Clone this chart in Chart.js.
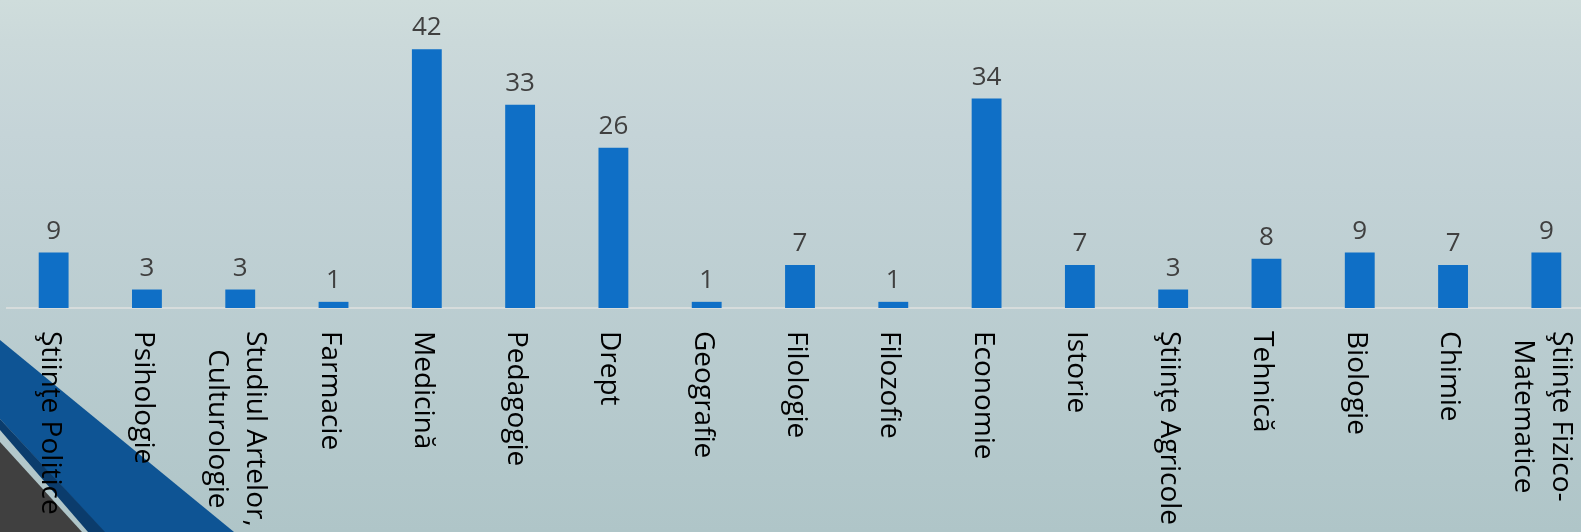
<!DOCTYPE html>
<html>
<head>
<meta charset="utf-8">
<script src="https://cdn.jsdelivr.net/npm/chart.js@4/dist/chart.umd.min.js"></script>
<style>
  html, body { margin: 0; padding: 0; overflow: hidden; width: 1581px; height: 532px; background: #c6d5d8; }
  #wrap { width: 1600px; height: 532px; }
</style>
</head>
<body>
<div id="wrap"><canvas id="c" width="1600" height="532"></canvas></div>
<script>
const categories = [
  "Ştiinţe Politice",
  "Psihologie",
  ["Studiul Artelor,", "Culturologie"],
  "Farmacie",
  "Medicină",
  "Pedagogie",
  "Drept",
  "Geografie",
  "Filologie",
  "Filozofie",
  "Economie",
  "Istorie",
  "Ştiinţe Agricole",
  "Tehnică",
  "Biologie",
  "Chimie",
  ["Ştiinţe Fizico-", "Matematice"]
];
const values = [9, 3, 3, 1, 42, 33, 26, 1, 7, 1, 34, 7, 3, 8, 9, 7, 9];
const yMin = 0;
const yMax = 50;

const backgroundPlugin = {
  id: 'bg',
  beforeDraw(chart) {
    const ctx = chart.ctx;
    const W = chart.width, H = chart.height;
    ctx.save();
    const g = ctx.createLinearGradient(0, 0, 0, H);
    g.addColorStop(0, '#cfdddc');
    g.addColorStop(0.08, '#cbd9da');
    g.addColorStop(0.25, '#c5d4d8');
    g.addColorStop(1, '#afc5c8');
    ctx.fillStyle = g;
    ctx.fillRect(0, 0, W, H);
    // decorative shapes bottom-left
    ctx.fillStyle = '#0e5494';
    ctx.beginPath();
    ctx.moveTo(0, 340); ctx.lineTo(234, 532); ctx.lineTo(104, 532); ctx.lineTo(0, 419);
    ctx.closePath(); ctx.fill();
    ctx.fillStyle = '#0b3c6c';
    ctx.beginPath();
    ctx.moveTo(0, 419); ctx.lineTo(105, 532); ctx.lineTo(88, 532); ctx.lineTo(0, 430);
    ctx.closePath(); ctx.fill();
    ctx.fillStyle = '#404040';
    ctx.beginPath();
    ctx.moveTo(0, 442); ctx.lineTo(82, 532); ctx.lineTo(0, 532);
    ctx.closePath(); ctx.fill();
    ctx.restore();
  }
};

const labelsPlugin = {
  id: 'labels',
  afterDraw(chart) {
    const ctx = chart.ctx;
    const xs = chart.scales.x;
    const base = chart.chartArea.bottom;
    ctx.save();
    // category labels, rotated 90° clockwise
    ctx.font = '28px "Open Sans"';
    ctx.fillStyle = '#000000';
    ctx.textBaseline = 'alphabetic';
    ctx.textAlign = 'left';
    const lineH = 38;
    categories.forEach((lab, i) => {
      const lines = Array.isArray(lab) ? lab : [lab];
      const cx = xs.getPixelForTick(i);
      const widths = lines.map(l => ctx.measureText(l).width);
      const maxW = Math.max(...widths);
      ctx.save();
      ctx.translate(cx, base);
      ctx.rotate(Math.PI / 2);
      lines.forEach((l, k) => {
        const yl = 12 + (k - (lines.length - 1) / 2) * lineH;
        ctx.fillText(l, 23 + (maxW - widths[k]) / 2, yl);
      });
      ctx.restore();
    });
    // value labels
    ctx.font = '26px "Open Sans"';
    ctx.fillStyle = '#404040';
    ctx.textAlign = 'center';
    const meta = chart.getDatasetMeta(0);
    meta.data.forEach((bar, i) => {
      ctx.fillText(String(values[i]), bar.x, bar.y - 14);
    });
    ctx.restore();
  }
};

new Chart(document.getElementById('c'), {
  type: 'bar',
  data: {
    labels: categories,
    datasets: [{
      data: values,
      backgroundColor: '#0f6fc6',
      borderWidth: 0,
      barPercentage: 0.32,
      categoryPercentage: 1
    }]
  },
  options: {
    responsive: false,
    animation: false,
    devicePixelRatio: 1,
    layout: { padding: { left: 7, right: 7, top: 0, bottom: 0 } },
    plugins: { legend: { display: false }, tooltip: { enabled: false } },
    scales: {
      x: {
        grid: { display: false },
        border: { display: true, color: '#d6dcdc', width: 2 },
        ticks: { display: false },
        afterFit(scale) { scale.height = 224; }
      },
      y: {
        display: false,
        min: yMin,
        max: yMax
      }
    }
  },
  plugins: [backgroundPlugin, labelsPlugin]
});
</script>
</body>
</html>
